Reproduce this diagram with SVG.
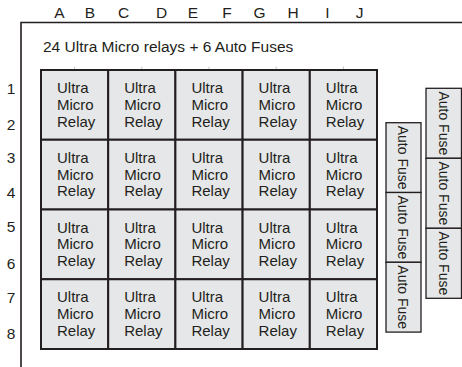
<svg xmlns="http://www.w3.org/2000/svg" width="462" height="367" viewBox="0 0 462 367">
<style>
text{font-family:"Liberation Sans",Arial,sans-serif;fill:#231f20}
.lbl{font-size:15.5px;text-anchor:middle}
.hdr{font-size:15.5px}
.rb{fill:#e6e7e8;stroke:#231f20;stroke-width:2}
.rt{font-size:15px}
.fb{fill:#e6e7e8;stroke:#231f20;stroke-width:1.3}
.ft{font-size:14px;text-anchor:middle}
.tick{stroke:#c8c8c8;stroke-width:1}
</style>
<rect width="462" height="367" fill="#fff"/>
<g id="frame"><path d="M21,367 V22.5 H462" fill="none" stroke="#231f20" stroke-width="1.6"/></g>
<g id="columns">
<text class="lbl" x="59.5" y="18.3">A</text><text class="lbl" x="90" y="18.3">B</text><text class="lbl" x="123.5" y="18.3">C</text><text class="lbl" x="161.5" y="18.3">D</text><text class="lbl" x="193" y="18.3">E</text><text class="lbl" x="227" y="18.3">F</text><text class="lbl" x="259.5" y="18.3">G</text><text class="lbl" x="293" y="18.3">H</text><text class="lbl" x="327.5" y="18.3">I</text><text class="lbl" x="359.5" y="18.3">J</text>
</g>
<g id="rows">
<text class="lbl" x="11" y="93.5">1</text><text class="lbl" x="11" y="130">2</text><text class="lbl" x="11" y="162.5">3</text><text class="lbl" x="11" y="197.5">4</text><text class="lbl" x="11" y="232">5</text><text class="lbl" x="11" y="268.5">6</text><text class="lbl" x="11" y="302.5">7</text><text class="lbl" x="11" y="338.5">8</text>
</g>
<g id="title"><text class="hdr" x="43" y="51.5">24 Ultra Micro relays + 6 Auto Fuses</text></g>
<g id="ticks">
<path class="tick" d="M74.6,66.5V70 M141.8,66.5V70 M209,66.5V70 M276.2,66.5V70 M343.4,66.5V70"/>
</g>
<g id="relays">
<g id="relay-1-1" transform="translate(41,70)"><rect class="rb" width="67.2" height="69.75"/><text class="rt" x="16" y="23">Ultra</text><text class="rt" x="16" y="39.8">Micro</text><text class="rt" x="16" y="56.5">Relay</text></g>
<g id="relay-1-2" transform="translate(108.2,70)"><rect class="rb" width="67.2" height="69.75"/><text class="rt" x="16" y="23">Ultra</text><text class="rt" x="16" y="39.8">Micro</text><text class="rt" x="16" y="56.5">Relay</text></g>
<g id="relay-1-3" transform="translate(175.4,70)"><rect class="rb" width="67.2" height="69.75"/><text class="rt" x="16" y="23">Ultra</text><text class="rt" x="16" y="39.8">Micro</text><text class="rt" x="16" y="56.5">Relay</text></g>
<g id="relay-1-4" transform="translate(242.6,70)"><rect class="rb" width="67.2" height="69.75"/><text class="rt" x="16" y="23">Ultra</text><text class="rt" x="16" y="39.8">Micro</text><text class="rt" x="16" y="56.5">Relay</text></g>
<g id="relay-1-5" transform="translate(309.8,70)"><rect class="rb" width="67.2" height="69.75"/><text class="rt" x="16" y="23">Ultra</text><text class="rt" x="16" y="39.8">Micro</text><text class="rt" x="16" y="56.5">Relay</text></g>
<g id="relay-2-1" transform="translate(41,139.75)"><rect class="rb" width="67.2" height="69.75"/><text class="rt" x="16" y="23">Ultra</text><text class="rt" x="16" y="39.8">Micro</text><text class="rt" x="16" y="56.5">Relay</text></g>
<g id="relay-2-2" transform="translate(108.2,139.75)"><rect class="rb" width="67.2" height="69.75"/><text class="rt" x="16" y="23">Ultra</text><text class="rt" x="16" y="39.8">Micro</text><text class="rt" x="16" y="56.5">Relay</text></g>
<g id="relay-2-3" transform="translate(175.4,139.75)"><rect class="rb" width="67.2" height="69.75"/><text class="rt" x="16" y="23">Ultra</text><text class="rt" x="16" y="39.8">Micro</text><text class="rt" x="16" y="56.5">Relay</text></g>
<g id="relay-2-4" transform="translate(242.6,139.75)"><rect class="rb" width="67.2" height="69.75"/><text class="rt" x="16" y="23">Ultra</text><text class="rt" x="16" y="39.8">Micro</text><text class="rt" x="16" y="56.5">Relay</text></g>
<g id="relay-2-5" transform="translate(309.8,139.75)"><rect class="rb" width="67.2" height="69.75"/><text class="rt" x="16" y="23">Ultra</text><text class="rt" x="16" y="39.8">Micro</text><text class="rt" x="16" y="56.5">Relay</text></g>
<g id="relay-3-1" transform="translate(41,209.5)"><rect class="rb" width="67.2" height="69.75"/><text class="rt" x="16" y="23">Ultra</text><text class="rt" x="16" y="39.8">Micro</text><text class="rt" x="16" y="56.5">Relay</text></g>
<g id="relay-3-2" transform="translate(108.2,209.5)"><rect class="rb" width="67.2" height="69.75"/><text class="rt" x="16" y="23">Ultra</text><text class="rt" x="16" y="39.8">Micro</text><text class="rt" x="16" y="56.5">Relay</text></g>
<g id="relay-3-3" transform="translate(175.4,209.5)"><rect class="rb" width="67.2" height="69.75"/><text class="rt" x="16" y="23">Ultra</text><text class="rt" x="16" y="39.8">Micro</text><text class="rt" x="16" y="56.5">Relay</text></g>
<g id="relay-3-4" transform="translate(242.6,209.5)"><rect class="rb" width="67.2" height="69.75"/><text class="rt" x="16" y="23">Ultra</text><text class="rt" x="16" y="39.8">Micro</text><text class="rt" x="16" y="56.5">Relay</text></g>
<g id="relay-3-5" transform="translate(309.8,209.5)"><rect class="rb" width="67.2" height="69.75"/><text class="rt" x="16" y="23">Ultra</text><text class="rt" x="16" y="39.8">Micro</text><text class="rt" x="16" y="56.5">Relay</text></g>
<g id="relay-4-1" transform="translate(41,279.25)"><rect class="rb" width="67.2" height="69.75"/><text class="rt" x="16" y="23">Ultra</text><text class="rt" x="16" y="39.8">Micro</text><text class="rt" x="16" y="56.5">Relay</text></g>
<g id="relay-4-2" transform="translate(108.2,279.25)"><rect class="rb" width="67.2" height="69.75"/><text class="rt" x="16" y="23">Ultra</text><text class="rt" x="16" y="39.8">Micro</text><text class="rt" x="16" y="56.5">Relay</text></g>
<g id="relay-4-3" transform="translate(175.4,279.25)"><rect class="rb" width="67.2" height="69.75"/><text class="rt" x="16" y="23">Ultra</text><text class="rt" x="16" y="39.8">Micro</text><text class="rt" x="16" y="56.5">Relay</text></g>
<g id="relay-4-4" transform="translate(242.6,279.25)"><rect class="rb" width="67.2" height="69.75"/><text class="rt" x="16" y="23">Ultra</text><text class="rt" x="16" y="39.8">Micro</text><text class="rt" x="16" y="56.5">Relay</text></g>
<g id="relay-4-5" transform="translate(309.8,279.25)"><rect class="rb" width="67.2" height="69.75"/><text class="rt" x="16" y="23">Ultra</text><text class="rt" x="16" y="39.8">Micro</text><text class="rt" x="16" y="56.5">Relay</text></g>
</g>
<g id="fuses">
<g id="fuse-l1" transform="translate(386,122.7)"><rect class="fb" width="35" height="69.8"/><text class="ft" transform="translate(12.3,34.9) rotate(90)">Auto Fuse</text></g>
<g id="fuse-l2" transform="translate(386,192.5)"><rect class="fb" width="35" height="69.8"/><text class="ft" transform="translate(12.3,34.9) rotate(90)">Auto Fuse</text></g>
<g id="fuse-l3" transform="translate(386,262.3)"><rect class="fb" width="35" height="69.8"/><text class="ft" transform="translate(12.3,34.9) rotate(90)">Auto Fuse</text></g>
<g id="fuse-r1" transform="translate(426,88.3)"><rect class="fb" width="35.5" height="70"/><text class="ft" transform="translate(12.8,35) rotate(90)">Auto Fuse</text></g>
<g id="fuse-r2" transform="translate(426,158.3)"><rect class="fb" width="35.5" height="70"/><text class="ft" transform="translate(12.8,35) rotate(90)">Auto Fuse</text></g>
<g id="fuse-r3" transform="translate(426,228.3)"><rect class="fb" width="35.5" height="70"/><text class="ft" transform="translate(12.8,35) rotate(90)">Auto Fuse</text></g>
</g>
<g id="connectors"/>
</svg>
